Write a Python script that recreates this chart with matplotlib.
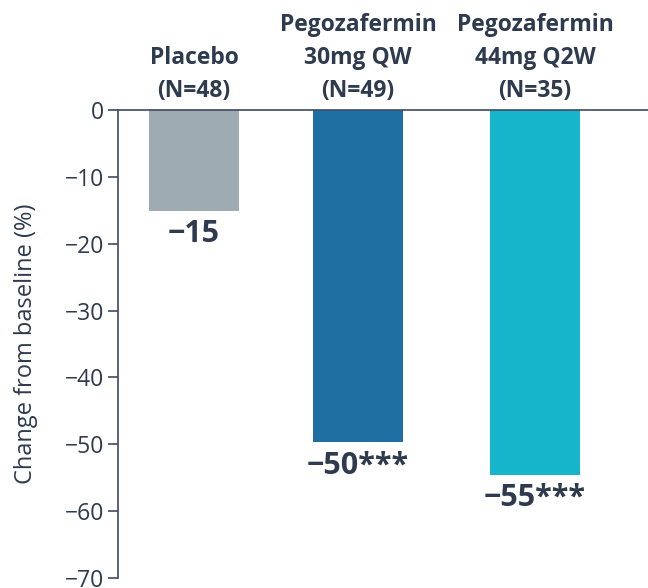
import matplotlib
matplotlib.use("Agg")
import matplotlib.pyplot as plt

categories = ["Placebo\n(N=48)", "Pegozafermin\n30mg QW\n(N=49)", "Pegozafermin\n44mg Q2W\n(N=35)"]
values = [-15.1, -49.7, -54.6]
value_labels = ["\u221215", "\u221250***", "\u221255***"]
yticks = [0, -10, -20, -30, -40, -50, -60, -70]
ytick_labels = ["0", "\u221210", "\u221220", "\u221230", "\u221240", "\u221250", "\u221260", "\u221270"]

colors = ["#9EABB3", "#1F6FA3", "#17B5CB"]
text_color = "#2E3A4E"
axis_color = "#3E4A5E"

plt.rcParams['font.family'] = ['Open Sans', 'DejaVu Sans']

fig = plt.figure(figsize=(6.48, 5.88), dpi=100)
ax = fig.add_axes([118/648, 1 - 578/588, 530/648, (578 - 110)/588])

positions = [76, 240, 417]
ax.bar(positions, values, width=90, color=colors, zorder=2)
ax.set_xlim(0, 530)
ax.set_ylim(-70, 0)
ax.set_yticks(yticks)
ax.set_yticklabels(ytick_labels, fontsize=16.5, color=text_color)
ax.set_xticks([])

for s in ["top", "right", "bottom"]:
    ax.spines[s].set_visible(False)
ax.spines["left"].set_color(axis_color)
ax.spines["left"].set_linewidth(1.2)
ax.tick_params(axis="y", length=7, width=1.2, color=axis_color, pad=3)
ax.axhline(0, color=axis_color, lw=1.2, zorder=3, clip_on=False)

ax.set_ylabel("Change from baseline (%)", fontsize=17, color=text_color, labelpad=19)

for x, cat in zip(positions, categories):
    ax.annotate(cat, xy=(x, 0), xytext=(0, 5), textcoords="offset points",
                ha="center", va="bottom", fontsize=16.5, fontweight="bold",
                color=text_color, linespacing=1.5, annotation_clip=False)

for x, v, lab in zip(positions, values, value_labels):
    ax.annotate(lab, xy=(x, v), xytext=(0, -6), textcoords="offset points",
                ha="center", va="top", fontsize=22, fontweight="bold",
                color=text_color, annotation_clip=False)

fig.savefig("out.png", dpi=100)
